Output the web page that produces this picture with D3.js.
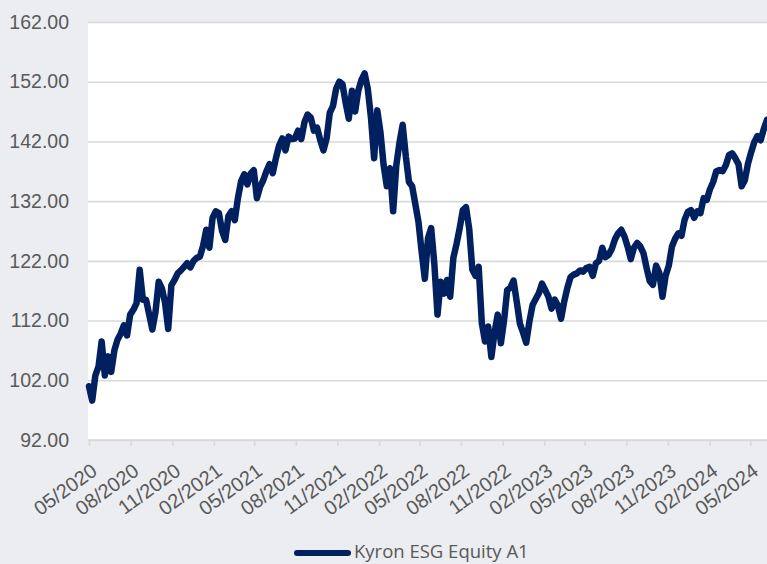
<!DOCTYPE html>
<html>
<head>
<meta charset="utf-8">
<script src="https://cdn.jsdelivr.net/npm/d3@7"></script>
<style>
  html, body { margin: 0; padding: 0; background: #ecedf0; }
  svg { display: block; font-family: "Open Sans", sans-serif; }
</style>
</head>
<body>
<script>
// Chart data, weekly closes
var seriesName = "Kyron ESG Equity A1";
var startDate = "2020-05-01";
var yTicks = [92, 102, 112, 122, 132, 142, 152, 162];
var navValues = [
  101.0, 98.6, 102.8, 104.3, 108.5, 102.8, 106.0, 103.4, 107.0, 108.8,
  109.8, 111.2, 109.5, 113.0, 113.8, 114.9, 120.5, 115.5, 115.5, 113.0,
  110.5, 113.5, 118.5, 117.4, 115.0, 110.6, 117.9, 118.8, 119.9, 120.4,
  121.0, 121.6, 120.9, 122.0, 122.5, 122.7, 124.5, 127.2, 124.2, 129.2,
  130.3, 130.0, 127.0, 125.5, 129.5, 130.3, 128.8, 132.5, 135.3, 136.5,
  134.8, 136.6, 137.2, 132.5, 134.4, 135.5, 137.0, 138.2, 136.7, 139.2,
  141.3, 142.5, 140.5, 142.8, 142.4, 142.5, 143.8, 142.4, 145.2, 146.5,
  146.0, 143.8, 144.3, 142.2, 140.5, 142.5, 146.8, 147.9, 150.8, 152.0,
  151.6, 148.5, 145.8, 150.5, 147.0, 150.5, 152.3, 153.4, 150.8, 146.0,
  139.2, 147.2, 143.5, 138.0, 134.5, 137.5, 130.3, 138.0, 141.8, 144.8,
  139.5, 135.2, 134.5, 131.5, 128.5, 123.5, 119.0, 125.8, 127.5, 121.5,
  113.0, 118.5, 116.5, 118.8, 116.0, 122.5, 124.8, 127.5, 130.5, 131.0,
  127.4, 120.5, 119.5, 121.0, 111.5, 108.5, 111.0, 105.9, 110.0, 113.0,
  108.2, 112.0, 117.1, 117.5, 118.7, 115.2, 111.5, 110.0, 108.3, 111.8,
  114.6, 115.6, 116.6, 118.2, 117.1, 116.0, 114.0, 115.5, 114.5, 112.3,
  115.2, 117.5, 119.3, 119.7, 119.9, 120.4, 120.2, 120.8, 121.0, 119.5,
  121.6, 122.0, 124.2, 122.6, 123.0, 124.0, 125.6, 126.6, 127.2, 126.1,
  124.4, 122.3, 124.2, 125.0, 124.4, 123.3, 120.8, 118.6, 118.0, 121.2,
  120.0, 116.0, 119.5, 121.2, 124.4, 125.7, 126.6, 126.2, 128.9, 130.2,
  130.5, 129.2, 130.3, 130.0, 132.5, 132.2, 134.0, 135.2, 137.0, 137.2,
  137.0, 138.0, 139.7, 140.0, 139.2, 138.2, 134.5, 135.5, 138.3, 140.2,
  141.9, 142.9, 142.2, 144.1, 145.6
];

var width = 767,
    height = 564;

var plot = { left: 88, right: 767, top: 22, bottom: 440 };

var parseDate = d3.timeParse("%Y-%m-%d");
var start = parseDate(startDate);

var data = navValues.map(function(v, i) {
    return { date: d3.timeWeek.offset(start, i), value: v };
});

var svg = d3.select("body").append("svg")
    .attr("width", width)
    .attr("height", height);

// white plot area
svg.append("rect")
    .attr("x", plot.left)
    .attr("y", plot.top)
    .attr("width", plot.right - plot.left)
    .attr("height", plot.bottom - plot.top)
    .style("fill", "#fff");

var x = d3.scaleTime()
    .domain(d3.extent(data, function(d) { return d.date; }))
    .range([plot.left + 1, plot.right]);

var y = d3.scaleLinear()
    .domain([92, 162])
    .range([plot.bottom, plot.top]);

// horizontal gridlines + y labels
var yAxis = d3.axisLeft(y)
    .tickValues(yTicks)
    .tickSize(-(plot.right - plot.left))
    .tickPadding(19)
    .tickFormat(d3.format(".2f"));

var gy = svg.append("g")
    .attr("transform", "translate(" + plot.left + ",0)")
    .call(yAxis);
gy.select(".domain").remove();
gy.selectAll("line")
    .style("stroke", "#d9d9d9")
    .style("stroke-width", 1.6);
gy.selectAll("text")
    .style("font-size", "19.5px")
    .style("fill", "#595959");

// x axis, quarterly ticks
var xTickDates = d3.timeMonth.range(start, x.domain()[1], 3);

var xAxis = d3.axisBottom(x)
    .tickValues(xTickDates)
    .tickSize(6)
    .tickFormat(d3.timeFormat("%m/%Y"));

var gx = svg.append("g")
    .attr("transform", "translate(0," + plot.bottom + ")")
    .call(xAxis);
gx.select(".domain")
    .attr("d", "M" + plot.left + ",0H" + plot.right)
    .style("stroke", "#d9d9d9")
    .style("stroke-width", 1.6);
gx.selectAll("line")
    .style("stroke", "#d9d9d9")
    .style("stroke-width", 1.6);
gx.selectAll("text")
    .attr("y", 0)
    .attr("dy", "0.35em")
    .attr("text-anchor", "end")
    .attr("transform", "translate(5,28) rotate(-36)")
    .style("font-size", "20px")
    .style("fill", "#595959");

// the NAV line
var line = d3.line()
    .x(function(d) { return x(d.date); })
    .y(function(d) { return y(d.value); });

svg.append("path")
    .datum(data)
    .attr("d", line)
    .style("fill", "none")
    .style("stroke", "#002060")
    .style("stroke-width", 6.5)
    .style("stroke-linejoin", "round")
    .style("stroke-linecap", "round");

// legend
var legend = svg.append("g");
legend.append("line")
    .attr("x1", 297)
    .attr("x2", 348)
    .attr("y1", 553)
    .attr("y2", 553)
    .style("stroke", "#002060")
    .style("stroke-width", 6)
    .style("stroke-linecap", "round");
legend.append("text")
    .attr("x", 354)
    .attr("y", 558)
    .text(seriesName)
    .style("font-size", "18.5px")
    .style("fill", "#595959");
</script>
</body>
</html>
